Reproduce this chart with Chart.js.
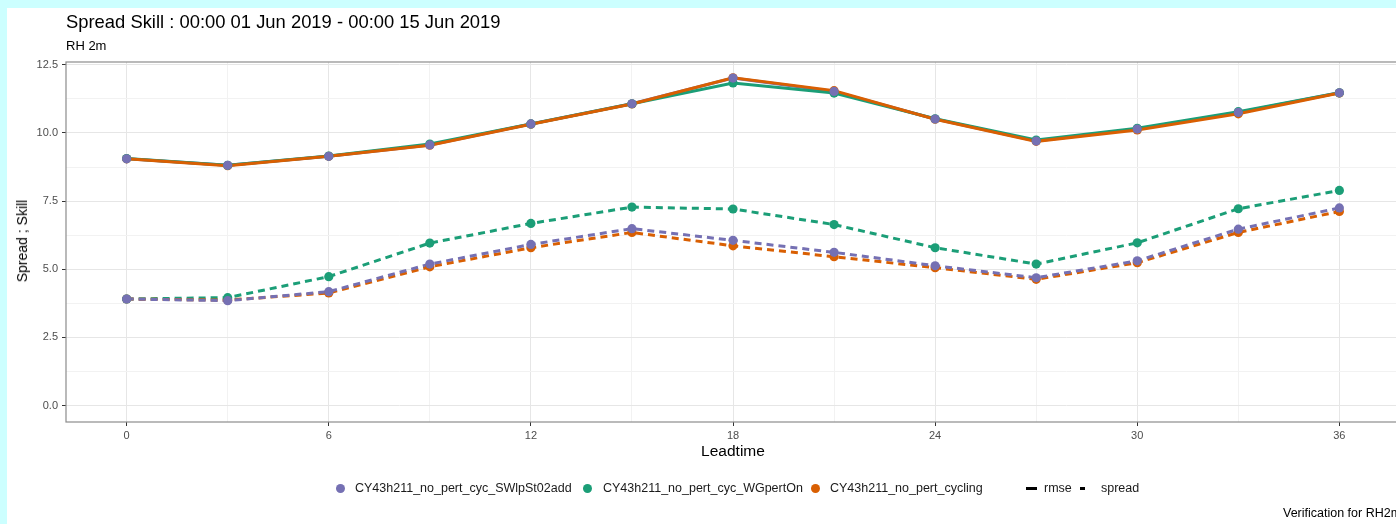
<!DOCTYPE html>
<html>
<head>
<meta charset="utf-8">
<script src="https://cdn.jsdelivr.net/npm/chart.js@4.4.1/dist/chart.umd.min.js"></script>
<style>
  html, body { margin:0; padding:0; width:1396px; height:524px; overflow:hidden; background:#ccffff; }
  body { position:relative; font-family:"Liberation Sans", Arial, Helvetica, sans-serif; }
  #white { position:absolute; left:7px; top:8px; width:1400px; height:520px; background:#ffffff; }
  #cv { position:absolute; left:0; top:0; }
  .t { position:absolute; white-space:nowrap; color:#000; line-height:1; }
  .leg { position:absolute; white-space:nowrap; font-size:12.5px; color:#1a1a1a; line-height:1; }
  .dot { position:absolute; width:9px; height:9px; border-radius:50%; }
  .bar { position:absolute; background:#000; }
</style>
</head>
<body>
<div id="white"></div>
<canvas id="cv" width="1420" height="524"></canvas>

<div class="t" style="left:66px; top:13px; font-size:18.4px;">Spread Skill : 00:00 01 Jun 2019 - 00:00 15 Jun 2019</div>
<div class="t" style="left:66px; top:39px; font-size:13px;">RH 2m</div>
<div class="t" style="left:22px; top:241px; font-size:14px; transform:translate(-50%,-50%) rotate(-90deg); transform-origin:center;">Spread ; Skill</div>
<div class="t" style="left:733px; top:451px; font-size:15.5px; transform:translate(-50%,-50%);">Leadtime</div>

<div class="dot" style="left:336px; top:484px; background:#7570B3;"></div>
<div class="leg" style="left:355px; top:482px;">CY43h211_no_pert_cyc_SWlpSt02add</div>
<div class="dot" style="left:583px; top:484px; background:#1B9E77;"></div>
<div class="leg" style="left:603px; top:482px;">CY43h211_no_pert_cyc_WGpertOn</div>
<div class="dot" style="left:811px; top:484px; background:#D95F02;"></div>
<div class="leg" style="left:830px; top:482px;">CY43h211_no_pert_cycling</div>
<div class="bar" style="left:1026px; top:487px; width:11px; height:3px;"></div>
<div class="leg" style="left:1044px; top:482px;">rmse</div>
<div class="bar" style="left:1080px; top:487px; width:5px; height:3px;"></div>
<div class="leg" style="left:1101px; top:482px;">spread</div>

<div class="leg" style="left:1283px; top:507px; color:#000;">Verification for RH2m</div>

<script>
const leadtimes = [0, 3, 6, 9, 12, 15, 18, 21, 24, 27, 30, 33, 36];

const rmseSW  = [9.05, 8.81, 9.14, 9.56, 10.33, 11.07, 12.01, 11.52, 10.51, 9.70, 10.14, 10.75, 11.47];
const rmseWG  = [9.06, 8.81, 9.15, 9.59, 10.33, 11.07, 11.83, 11.46, 10.52, 9.74, 10.17, 10.78, 11.47];
const rmseCyc = [9.05, 8.80, 9.14, 9.55, 10.32, 11.06, 12.02, 11.55, 10.50, 9.69, 10.11, 10.70, 11.46];

const spreadSW  = [3.91, 3.85, 4.18, 5.19, 5.91, 6.49, 6.06, 5.62, 5.13, 4.69, 5.31, 6.47, 7.25];
const spreadWG  = [3.91, 3.96, 4.73, 5.96, 6.68, 7.28, 7.21, 6.64, 5.79, 5.19, 5.97, 7.22, 7.89];
const spreadCyc = [3.91, 3.87, 4.13, 5.09, 5.79, 6.35, 5.86, 5.46, 5.06, 4.63, 5.24, 6.35, 7.12];

const xMajorTicks = [0, 6, 12, 18, 24, 30, 36];
const xMinorTicks = [3, 9, 15, 21, 27, 33];
const yMajorTicks = [0, 2.5, 5, 7.5, 10, 12.5];
const yMinorTicks = [1.25, 3.75, 6.25, 8.75, 11.25];

const cPurple = '#7570B3', cGreen = '#1B9E77', cOrange = '#D95F02';

function pts(arr) { return leadtimes.map((x, i) => ({ x: x, y: arr[i] })); }

function lineDs(arr, color, dashed, order) {
  return { data: pts(arr), borderColor: color, backgroundColor: color, borderWidth: 3,
    borderDash: dashed ? [7, 5] : [], pointRadius: 0, pointHoverRadius: 0, tension: 0,
    showLine: true, order: order, borderCapStyle: 'butt' };
}
function pointDs(arr, color, order) {
  return { data: pts(arr), borderColor: color, backgroundColor: color, borderWidth: 0,
    pointRadius: 4.6, pointHoverRadius: 4.6, showLine: false, order: order };
}

const panelBorder = {
  id: 'panelBorder',
  afterDraw(chart) {
    const a = chart.chartArea, ctx = chart.ctx;
    ctx.save();
    ctx.strokeStyle = '#8c8c8c';
    ctx.lineWidth = 1.2;
    ctx.strokeRect(a.left, a.top, a.right - a.left, a.bottom - a.top);
    ctx.restore();
  }
};

const isMajor = (v, list) => list.some(t => Math.abs(t - v) < 1e-6);

new Chart(document.getElementById('cv'), {
  type: 'scatter',
  data: {
    datasets: [
      lineDs(rmseSW, cPurple, false, 16),
      lineDs(rmseWG, cGreen, false, 15),
      lineDs(rmseCyc, cOrange, false, 14),
      lineDs(spreadSW, cPurple, true, 11),
      lineDs(spreadWG, cGreen, true, 13),
      lineDs(spreadCyc, cOrange, true, 12),
      pointDs(rmseCyc, cOrange, 6),
      pointDs(spreadCyc, cOrange, 5),
      pointDs(rmseWG, cGreen, 4),
      pointDs(spreadWG, cGreen, 3),
      pointDs(rmseSW, cPurple, 2),
      pointDs(spreadSW, cPurple, 1)
    ]
  },
  options: {
    responsive: false,
    animation: false,
    devicePixelRatio: 1,
    layout: { padding: { top: 62, right: 20, left: 0, bottom: 0 } },
    plugins: { legend: { display: false }, tooltip: { enabled: false } },
    scales: {
      x: {
        type: 'linear', min: -1.8, max: 37.8,
        afterBuildTicks: s => { s.ticks = [...xMajorTicks, ...xMinorTicks].sort((a,b)=>a-b).map(v => ({ value: v })); },
        afterFit: s => { s.height = 102; },
        ticks: {
          autoSkip: false, maxRotation: 0, padding: 3,
          font: { family: "'Liberation Sans', Arial, sans-serif", size: 11 }, color: '#4d4d4d',
          callback: v => isMajor(v, xMajorTicks) ? String(v) : ''
        },
        grid: {
          color: c => isMajor(c.tick.value, xMajorTicks) ? '#e6e6e6' : '#f2f2f2',
          tickColor: c => isMajor(c.tick.value, xMajorTicks) ? '#333333' : 'rgba(0,0,0,0)',
          tickLength: 4, lineWidth: 1
        },
        border: { display: false }
      },
      y: {
        type: 'linear', min: -0.6, max: 12.6,
        afterBuildTicks: s => { s.ticks = [...yMajorTicks, ...yMinorTicks].sort((a,b)=>a-b).map(v => ({ value: v })); },
        afterFit: s => { s.width = 66; },
        ticks: {
          autoSkip: false, padding: 4,
          font: { family: "'Liberation Sans', Arial, sans-serif", size: 11 }, color: '#4d4d4d',
          callback: v => isMajor(v, yMajorTicks) ? v.toFixed(1) : ''
        },
        grid: {
          color: c => isMajor(c.tick.value, yMajorTicks) ? '#e6e6e6' : '#f2f2f2',
          tickColor: c => isMajor(c.tick.value, yMajorTicks) ? '#333333' : 'rgba(0,0,0,0)',
          tickLength: 4, lineWidth: 1
        },
        border: { display: false }
      }
    }
  },
  plugins: [panelBorder]
});
</script>
</body>
</html>
